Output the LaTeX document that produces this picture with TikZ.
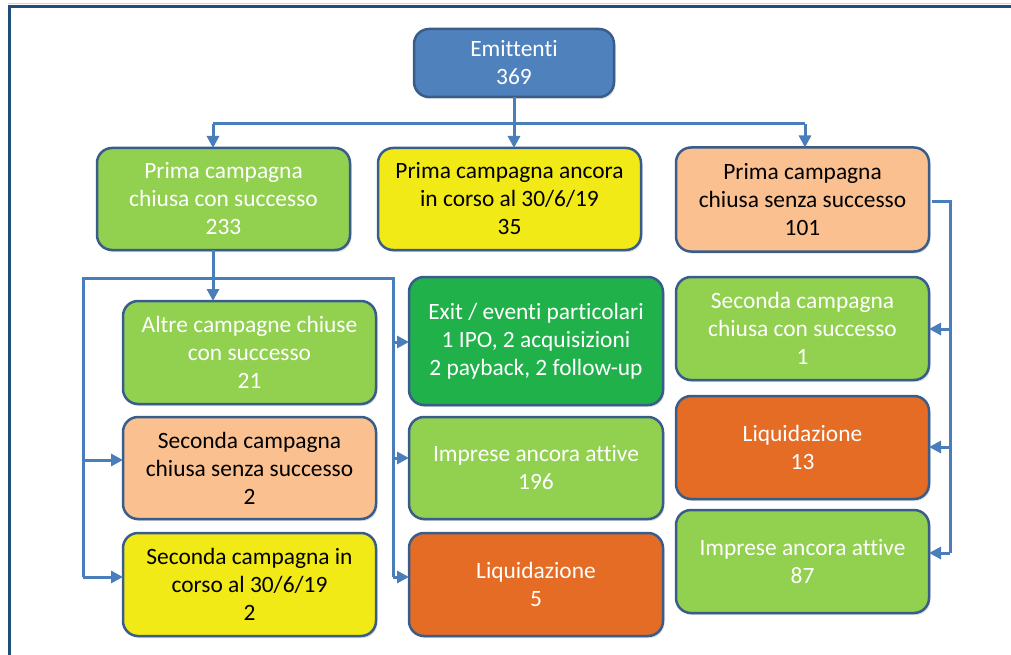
\documentclass[tikz,border=0pt]{standalone}
\usepackage{fontspec}
\setmainfont{Carlito}[Ligatures={NoCommon}]
\usetikzlibrary{arrows.meta,shadows}
\definecolor{bxblue}{HTML}{4F81BD}
\definecolor{bxgreen}{HTML}{92D050}
\definecolor{bxyellow}{HTML}{F2EA17}
\definecolor{bxpeach}{HTML}{FAC090}
\definecolor{bxdkgreen}{HTML}{21B14B}
\definecolor{bxorange}{HTML}{E46C24}
\definecolor{bxborder}{HTML}{385D8A}
\definecolor{connblue}{HTML}{4A7EBB}
\definecolor{framedark}{HTML}{1F4E79}
\definecolor{framelight}{HTML}{BDD7EE}
\begin{document}
\begin{tikzpicture}[x=1pt,y=-1pt,
  box/.style={draw=bxborder, line width=2.5pt, rounded corners=15pt, inner sep=0pt, outer sep=0pt,
    align=center, font=\fontsize{23.4}{28}\selectfont,
    drop shadow={shadow xshift=1.5pt, shadow yshift=-2pt, opacity=0.25}},
  wbox/.style={box, text=white},
  kbox/.style={box, text=black},
  conn/.style={draw=connblue, line width=3pt},
  arr/.style={conn, -{Triangle[length=12pt,width=12pt]}}
]
\useasboundingbox (0,0) rectangle (1011,655);
% frame
\draw[framelight, line width=1.5pt] (1011,3.5) -- (8,3.5);
\draw[framedark, line width=3pt] (9.5,655) -- (9.5,6.5) -- (1011,6.5);

% nodes
\node[wbox, fill=bxblue, minimum width=200pt, minimum height=68pt] (E) at (514,63) {Emittenti\\369};

\node[wbox, fill=bxgreen, minimum width=253pt, minimum height=102pt] (A) at (223.5,199) {Prima campagna\\chiusa con successo\\233};
\node[kbox, fill=bxyellow, minimum width=263pt, minimum height=102pt] (B) at (509.5,199) {Prima campagna ancora\\in corso al 30/6/19\\35};
\node[kbox, fill=bxpeach, minimum width=253pt, minimum height=104pt] (C) at (802.5,199.5) {Prima campagna\\chiusa senza successo\\101};

\node[wbox, fill=bxgreen, minimum width=253pt, minimum height=103pt] (L1) at (249.5,352.5) {Altre campagne chiuse\\con successo\\21};
\node[kbox, fill=bxpeach, minimum width=253pt, minimum height=102pt] (L2) at (249.5,468) {Seconda campagna\\chiusa senza successo\\2};
\node[kbox, fill=bxyellow, minimum width=253pt, minimum height=103pt] (L3) at (249.5,584.5) {Seconda campagna in\\corso al 30/6/19\\2};

\node[wbox, fill=bxdkgreen, minimum width=254pt, minimum height=128pt] (M1) at (536,341) {Exit / eventi particolari\\1 IPO, 2 acquisizioni\\2 payback, 2 follow-up};
\node[wbox, fill=bxgreen, minimum width=254pt, minimum height=102pt] (M2) at (536,468) {Imprese ancora attive\\196};
\node[wbox, fill=bxorange, minimum width=254pt, minimum height=103pt] (M3) at (536,584.5) {Liquidazione\\5};

\node[wbox, fill=bxgreen, minimum width=253pt, minimum height=103pt] (R1) at (802.5,328.5) {Seconda campagna\\chiusa con successo\\1};
\node[wbox, fill=bxorange, minimum width=253pt, minimum height=103pt] (R2) at (802.5,447.5) {Liquidazione\\13};
\node[wbox, fill=bxgreen, minimum width=253pt, minimum height=103pt] (R3) at (802.5,561.5) {Imprese ancora attive\\87};

% top bus
\coordinate (b0) at (514,124);
\coordinate (bL) at (213,124);
\coordinate (bR) at (805,124);
\draw[conn] (E.south) -- (b0);
\draw[conn] (bL) -- (bR);
\draw[arr] (bL) -- (bL |- A.north);
\draw[arr] (b0) -- (b0 |- B.north);
\draw[arr] (bR) -- (bR |- C.north);

% left group
\coordinate (gL) at (83,278);
\coordinate (gR) at (393,278);
\coordinate (gL2) at (83,460);
\coordinate (gL3) at (83,577);
\coordinate (gR1) at (393,342);
\coordinate (gR2) at (393,458);
\coordinate (gR3) at (393,577);
\draw[arr] (A.south -| bL) -- (bL |- L1.north);
\draw[conn] (gL3) -- (gL) -- (gR) -- (gR3);
\draw[arr] (gL2) -- (gL2 -| L2.west);
\draw[arr] (gL3) -- (gL3 -| L3.west);
\draw[arr] (gR1) -- (gR1 -| M1.west);
\draw[arr] (gR2) -- (gR2 -| M2.west);
\draw[arr] (gR3) -- (gR3 -| M3.west);

% right group
\coordinate (rT) at (950,201);
\coordinate (r1) at (950,329);
\coordinate (r2) at (950,447);
\coordinate (r3) at (950,553);
\draw[conn] (rT -| C.east) ++(3,0) -- (rT) -- (r3);
\draw[arr] (r1) -- (r1 -| R1.east);
\draw[arr] (r2) -- (r2 -| R2.east);
\draw[arr] (r3) -- (r3 -| R3.east);
\end{tikzpicture}
\end{document}
